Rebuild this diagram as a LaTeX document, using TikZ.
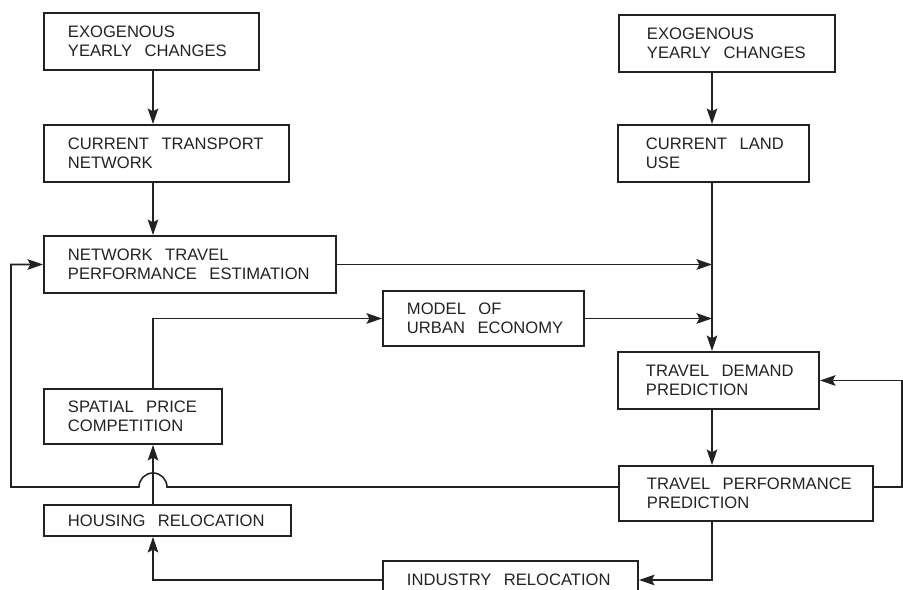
\documentclass[tikz,border=0pt]{standalone}
\usepackage{fontspec}
\setmainfont{Liberation Sans}
\usepackage{tikz}
\usetikzlibrary{arrows.meta,calc,positioning}
\definecolor{ink}{HTML}{222222}
\newcommand\boxfont{\fontsize{11.8}{13.5}\selectfont}
\tikzset{
    block/.style={
    rectangle,draw=ink,line width=1.4pt,text=ink,anchor=north west,
    align=left,inner xsep=0.6cm,inner ysep=0pt,font=\boxfont,
    execute at begin node={\setlength{\spaceskip}{0.75em}\hyphenpenalty=10000\exhyphenpenalty=10000\relax}
    },
    rblock/.style={
    block,inner xsep=0.7cm
    },
    flow/.style={
    draw=ink,line width=1.1pt,-{Stealth[length=11pt,width=7.5pt,inset=2pt]}
    },
}
\begin{document}
\begin{tikzpicture}[x=0.025cm,y=-0.025cm]
   \path[use as bounding box,clip] (0,0) rectangle (903,590);
   \coordinate (lc) at (153,0);
   \coordinate (rc) at (712,0);
   \coordinate (fb) at (0,487);
   \coordinate (lx) at (11,0);
   \coordinate (rx) at (902,0);

   %left column
   \node[block,text width=4.175cm,minimum height=1.425cm] (exo1) at (43,12) {EXOGENOUS\\YEARLY~CHANGES};
   \node[block,text width=4.925cm,minimum height=1.425cm] (net) at (43,124) {CURRENT~TRANSPORT\\NETWORK};
   \node[block,text width=6.1cm,minimum height=1.425cm] (trav) at (43,235) {NETWORK~TRAVEL\\PERFORMANCE~ESTIMATION};
   \node[block,text width=3.25cm,minimum height=1.375cm] (price) at (43,388) {SPATIAL~PRICE\\COMPETITION};
   \node[block,text width=4.975cm,minimum height=0.775cm] (house) at (43,504) {HOUSING~RELOCATION};

   %middle
   \node[block,text width=3.825cm,minimum height=1.375cm] (model) at (382,290) {MODEL~OF\\URBAN~ECONOMY};
   \node[block,text width=5.175cm,minimum height=0.95cm] (ind) at (382,560) {INDUSTRY~RELOCATION};

   %right column
   \node[rblock,text width=4.0cm,minimum height=1.425cm] (exo2) at (618,14) {EXOGENOUS\\YEARLY~CHANGES};
   \node[rblock,text width=3.375cm,minimum height=1.425cm] (land) at (617,124) {CURRENT~LAND\\USE};
   \node[rblock,text width=3.625cm,minimum height=1.425cm] (dem) at (617,351) {TRAVEL~DEMAND\\PREDICTION};
   \node[rblock,text width=4.95cm,minimum height=1.375cm] (perf) at (618,465) {TRAVEL~PERFORMANCE\\PREDICTION};

  \path
    (exo1.south -| lc) edge[flow] (net.north -| lc)
    (net.south -| lc) edge[flow] (trav.north -| lc)
    (house.north -| lc) edge[flow] (price.south -| lc)
    (exo2.south -| rc) edge[flow] (land.north -| rc)
    (trav.east) edge[flow] (trav.east -| rc)
    (model.east) edge[flow] (model.east -| rc)
    (land.south -| rc) edge[flow] (dem.north -| rc)
    (dem.south -| rc) edge[flow] (perf.north -| rc);

  \draw[flow] (price.north -| lc) -- (lc |- model.west) -- (model.west);
  \draw[flow] (perf.south -| rc) -- (rc |- ind.east) -- (ind.east);
  \draw[flow] (ind.west) -- (lc |- ind.west) -- (house.south -| lc);

  %feedback loops
  \draw[flow] (perf.west |- fb) -- ($(lc |- fb)+(14,0)$)
    arc[start angle=0,end angle=180,radius=0.35cm] -- (lx |- fb) -- (lx |- trav.west) -- (trav.west);
  \draw[flow] (perf.east |- fb) -- (rx |- fb) -- (rx |- dem.east) -- (dem.east);
\end{tikzpicture}
\end{document}
